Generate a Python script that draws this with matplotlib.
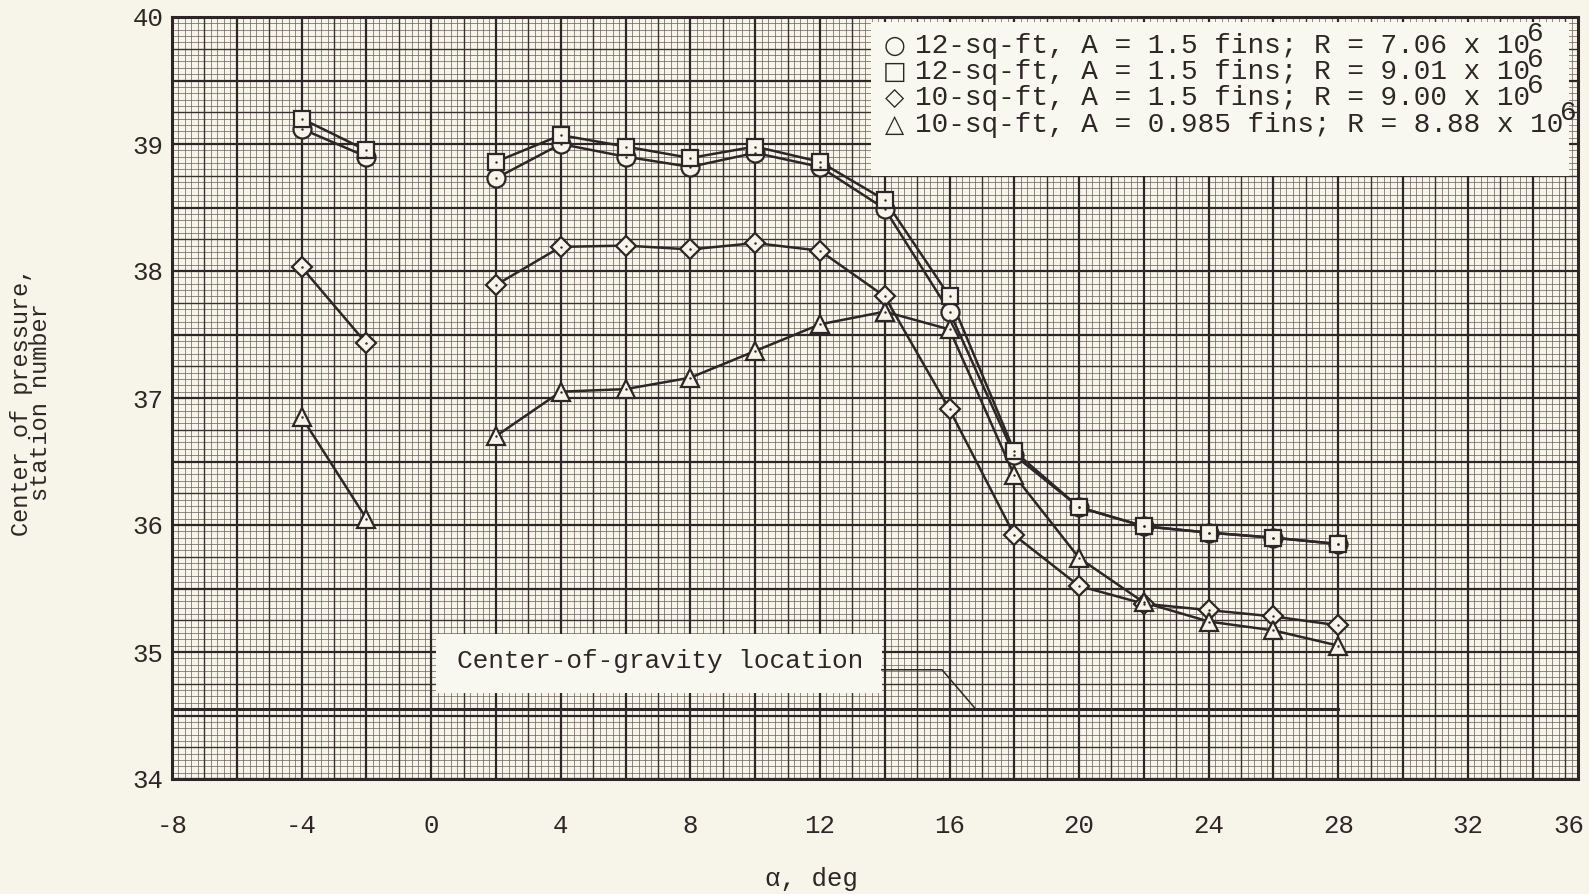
import matplotlib
matplotlib.use("Agg")
import matplotlib.pyplot as plt
from matplotlib.patches import Rectangle
import numpy as np

# angle of attack, deg
alpha = [-4, -2, 2, 4, 6, 8, 10, 12, 14, 16, 18, 20, 22, 24, 26, 28]

# center of pressure, station number
cp_12_706 = [39.12, 38.90, 38.73, 39.00, 38.90, 38.82, 38.93, 38.82, 38.49, 37.68,
             36.55, 36.14, 35.99, 35.94, 35.90, 35.85]
cp_12_901 = [39.20, 38.95, 38.86, 39.07, 38.98, 38.89, 38.98, 38.86, 38.56, 37.80,
             36.58, 36.14, 35.99, 35.94, 35.90, 35.85]
cp_10_900 = [38.03, 37.43, 37.89, 38.19, 38.20, 38.17, 38.22, 38.16, 37.80, 36.91,
             35.92, 35.52, 35.38, 35.33, 35.28, 35.21]
cp_10_0985 = [36.85, 36.05, 36.70, 37.05, 37.07, 37.16, 37.37, 37.58, 37.68, 37.54,
              36.39, 35.74, 35.39, 35.24, 35.17, 35.05]

cg_station = 34.55
cg_range = [-8, 28]

legend_marks = ["\u25cb", "\u25a1", "\u25c7", "\u25b3"]
legend_text = ["12-sq-ft, A = 1.5 fins; R = 7.06 x 10",
               "12-sq-ft, A = 1.5 fins; R = 9.01 x 10",
               "10-sq-ft, A = 1.5 fins; R = 9.00 x 10",
               "10-sq-ft, A = 0.985 fins; R = 8.88 x 10"]

xticks = [-8, -4, 0, 4, 8, 12, 16, 20, 24, 28, 32]
yticks = [34, 35, 36, 37, 38, 39, 40]

paper = "#f7f5ea"
ink = "#2e2626"
mono = ["Liberation Mono", "DejaVu Sans Mono"]

fig = plt.figure(figsize=(15.89, 8.94), dpi=100, facecolor=paper)
ax = fig.add_axes([172 / 1589, 1 - 779 / 894, 1406 / 1589, 762 / 894])
ax.set_facecolor(paper)
ax.set_xlim(-8, 35.4)
ax.set_ylim(34, 40)

# graph paper
xf = np.arange(-8, 35.41, 0.2)
yf = np.arange(34, 40.001, 0.05)
ax.vlines(xf, 34, 40, color="#675c58", lw=0.5, zorder=0)
ax.hlines(yf, -8, 35.4, color="#675c58", lw=0.5, zorder=0)
ax.vlines(np.arange(-7, 35.41, 2), 34, 40, color="#3a3030", lw=1.0, zorder=0)
ax.hlines(np.arange(34.25, 40, 0.5), -8, 35.4, color="#3a3030", lw=1.0, zorder=0)
ax.vlines(np.arange(-8, 35.41, 2), 34, 40, color="#2e2626", lw=1.6, zorder=0)
ax.hlines(np.arange(34, 40.01, 0.5), -8, 35.4, color="#2e2626", lw=1.6, zorder=0)

for s in ax.spines.values():
    s.set_linewidth(2.2)
    s.set_color(ink)

series = [(cp_12_706, "o", 13), (cp_12_901, "s", 11), (cp_10_900, "D", 10), (cp_10_0985, "^", 13)]
for y, m, ms in series:
    for a, b in [(0, 2), (2, len(alpha))]:
        ax.plot(alpha[a:b], y[a:b], color=ink, lw=1.8, zorder=3)
    ax.plot(alpha, y, ls="none", marker=m, ms=ms, mfc=paper, mec=ink, mew=1.6, zorder=4)
    ax.plot(alpha, y, ls="none", marker=".", ms=1.5, color=ink, zorder=5)

# center-of-gravity line and label
ax.plot(cg_range, [cg_station, cg_station], color=ink, lw=2.2, zorder=3)
ax.add_patch(Rectangle((0.15, 34.68), 13.76, 0.465, facecolor="#f9f8f0", edgecolor="none", zorder=2))
ax.text(7.06, 34.93, "Center-of-gravity location", family=mono, fontsize=18.8,
        ha="center", va="center", color=ink, zorder=6)
ax.plot([13.91, 15.77, 16.81], [34.86, 34.86, cg_station], color=ink, lw=1.1, zorder=3)

# legend box
ax.add_patch(Rectangle((13.57, 38.745), 21.55, 1.215, facecolor="#f9f8f0", edgecolor="none", zorder=2))
yl = [39.775, 39.567, 39.36, 39.153]
for mk, txt, yy in zip(legend_marks, legend_text, yl):
    ax.text(14.31, yy, mk, family=["DejaVu Sans"], fontsize=18, ha="center", va="center",
            color=ink, zorder=6)
    t = ax.text(14.93, yy, txt, family=mono, fontsize=20, ha="left", va="center",
                color=ink, zorder=6)
    ax.annotate("6", xy=(1, 0.5), xycoords=t, xytext=(-3, 12), textcoords="offset pixels",
                family=mono, fontsize=20, ha="left", va="center", color=ink, zorder=6)

ax.set_xticks(xticks)
ax.set_xticklabels([str(v) for v in xticks])
ax.set_yticks(yticks)
ax.set_yticklabels([str(v) for v in yticks])
ax.tick_params(length=0, labelsize=18.5, colors=ink)
ax.tick_params(axis="x", pad=25)
ax.tick_params(axis="y", pad=6)
for lab in ax.get_xticklabels() + ax.get_yticklabels():
    lab.set_family(mono)
ax.text(35.12, -0.062, "36", transform=ax.get_xaxis_transform(), family=mono,
        fontsize=18.5, ha="center", va="center", color=ink, clip_on=False)

ax.set_xlabel("\u03b1, deg", family=mono, fontsize=18.5, color=ink)
ax.xaxis.set_label_coords(0.4545, -0.116)
ax.set_ylabel("Center of pressure,\nstation number", family=mono, fontsize=17,
              color=ink, linespacing=0.8)
ax.yaxis.set_label_coords(-0.085, 0.495)

fig.savefig("out.png", dpi=100, facecolor=paper)
